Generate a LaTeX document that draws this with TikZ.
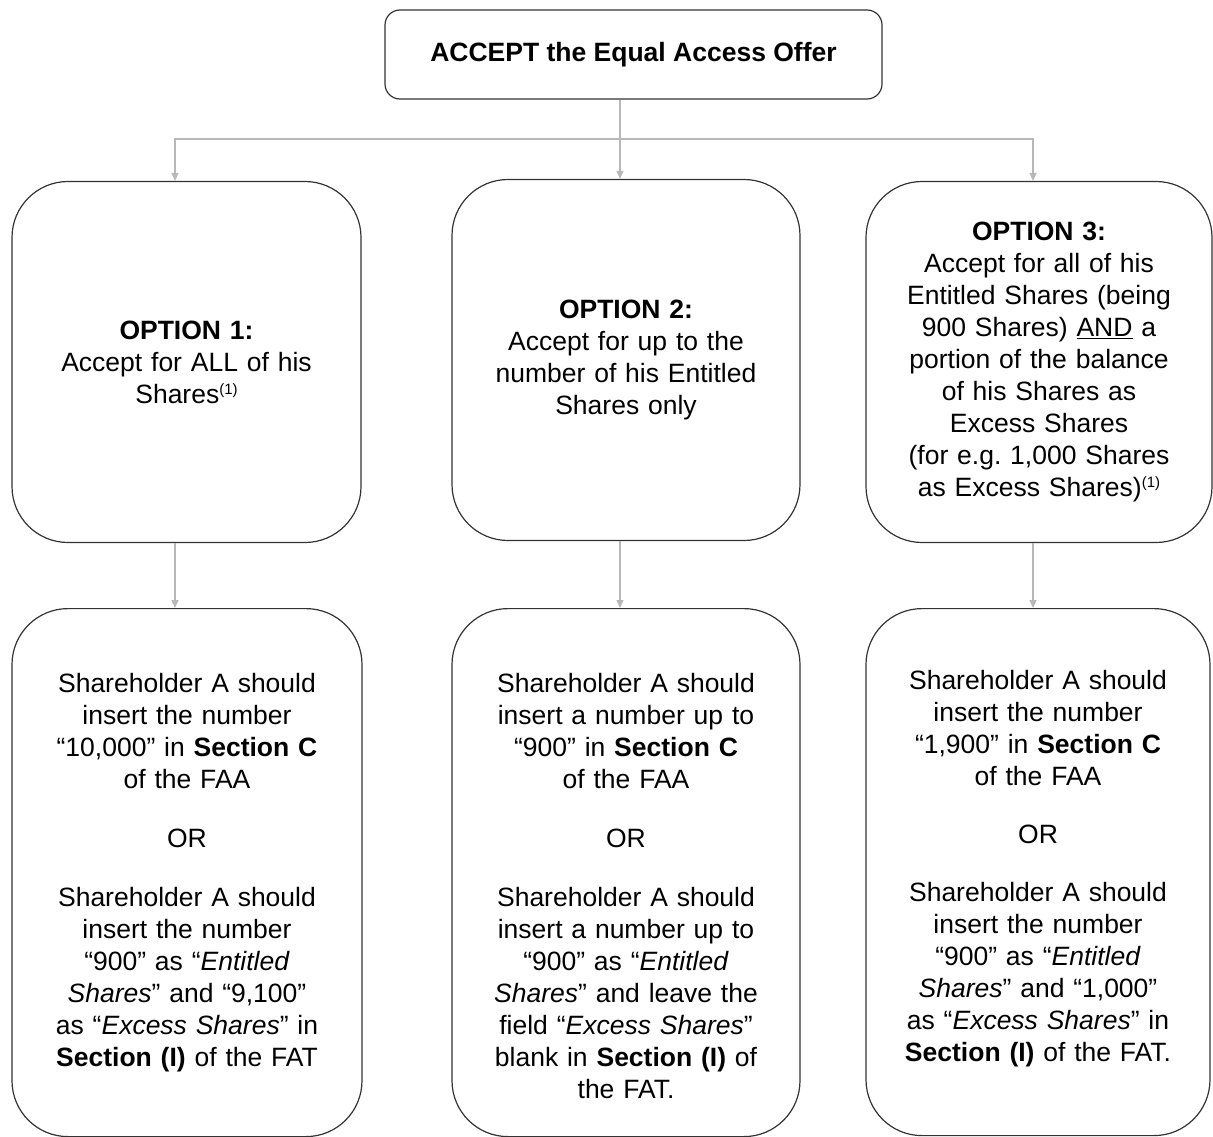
\documentclass[tikz,border=0pt]{standalone}
\usepackage{fontspec}
\setmainfont{Liberation Sans}
\usepackage{tikz}
\usetikzlibrary{arrows.meta}

\newcommand{\fnmark}[1]{\raisebox{9pt}{\fontsize{15}{15}\selectfont(#1)}}

\begin{document}
\frenchspacing
\begin{tikzpicture}[x=1pt, y=-1pt,
	every node/.style={font=\fontsize{26.5}{32}\selectfont},
	headbox/.style={draw=black!80, line width=1.2pt, rounded corners=15pt, minimum width=497pt, minimum height=89pt},
	optbox/.style={draw=black!80, line width=1.2pt, rounded corners=56pt, align=center, text width=#1, inner xsep=0pt, inner ysep=0pt, minimum height=361pt},
	actbox/.style={draw=black!80, line width=1.2pt, rounded corners=56pt, align=center, text width=#1, inner xsep=0pt, inner ysep=0pt, text height=84pt, text depth=444pt, anchor=north},
	link/.style={draw=black!28, line width=1.3pt, -{Triangle[length=8pt,width=7pt]}}]
	\useasboundingbox (0,0) rectangle (1213,1137);
	\node[headbox] (accept) at (633.5,54.5) {\textbf{ACCEPT the Equal Access Offer}};
	\node[optbox=349pt] (opt1) at (186.5,362) {\textbf{OPTION 1:}\\Accept for ALL of his\\Shares\fnmark{1}};
	\node[optbox=348pt] (opt2) at (626,360) {\textbf{OPTION 2:}\\Accept for up to the\\number of his Entitled\\Shares only};
	\node[optbox=346pt] (opt3) at (1039,362) {\textbf{OPTION 3:}\\Accept for all of his\\Entitled Shares (being\\900 Shares) \underline{AND} a\\portion of the balance\\of his Shares as\\Excess Shares\\(for e.g. 1,000 Shares\\as Excess Shares)\fnmark{1}};
	\node[actbox=350pt] (act1) at (187,608) {Shareholder A should\\insert the number\\“10,000” in \textbf{Section C}\\of the FAA\\[27pt]OR\\[27pt]Shareholder A should\\insert the number\\“900” as “\textit{Entitled}\\\textit{Shares}” and “9,100”\\as “\textit{Excess Shares}” in\\\textbf{Section (I)} of the FAT};
	\node[actbox=348pt] (act2) at (626,608) {Shareholder A should\\insert a number up to\\“900” in \textbf{Section C}\\of the FAA\\[27pt]OR\\[27pt]Shareholder A should\\insert a number up to\\“900” as “\textit{Entitled}\\\textit{Shares}” and leave the\\field “\textit{Excess Shares}”\\blank in \textbf{Section (I)} of\\the FAT.};
	\node[actbox=344pt, text height=81pt, text depth=446pt] (act3) at (1038,608) {Shareholder A should\\insert the number\\“1,900” in \textbf{Section C}\\of the FAA\\[26pt]OR\\[26pt]Shareholder A should\\insert the number\\“900” as “\textit{Entitled}\\\textit{Shares}” and “1,000”\\as “\textit{Excess Shares}” in\\\textbf{Section (I)} of the FAT.};
	% accept -> options
	\coordinate (fork) at (620,139);
	\draw[link] ([xshift=-13.5pt]accept.south) -- ([xshift=-6pt]opt2.north);
	\draw[link] (fork) -| ([xshift=-11.5pt]opt1.north);
	\draw[link] (fork) -| ([xshift=-6pt]opt3.north);
	% options -> actions
	\draw[link] ([xshift=-11.5pt]opt1.south) -- ([xshift=-11.5pt]opt1.south |- act1.north);
	\draw[link] ([xshift=-6pt]opt2.south) -- ([xshift=-6pt]opt2.south |- act2.north);
	\draw[link] ([xshift=-6pt]opt3.south) -- ([xshift=-6pt]opt3.south |- act3.north);
\end{tikzpicture}
\end{document}
